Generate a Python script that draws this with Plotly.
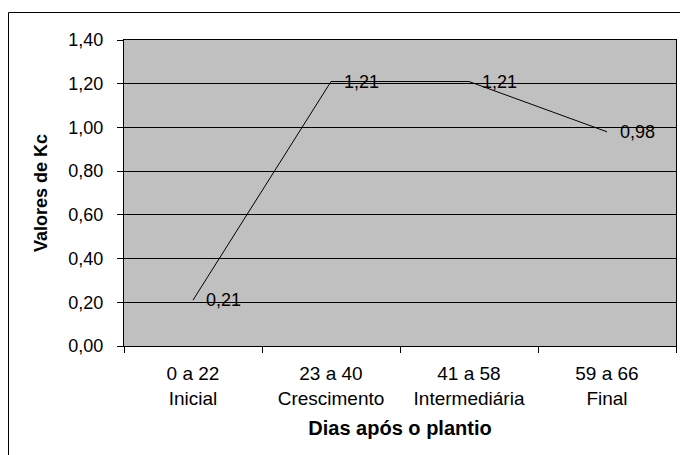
import plotly.graph_objects as go

categories = ["0 a 22<br>Inicial", "23 a 40<br>Crescimento", "41 a 58<br>Intermediária", "59 a 66<br>Final"]
kc_values = [0.21, 1.21, 1.21, 0.98]
kc_labels = ["0,21", "1,21", "1,21", "0,98"]
y_ticks = [0.0, 0.2, 0.4, 0.6, 0.8, 1.0, 1.2, 1.4]
y_ticktext = ["0,00", "0,20", "0,40", "0,60", "0,80", "1,00", "1,20", "1,40"]

FONT = "Liberation Sans, Arial, sans-serif"

fig = go.Figure()
fig.add_trace(go.Scatter(
    x=categories, y=kc_values, mode="lines",
    line=dict(color="black", width=1), hoverinfo="skip", showlegend=False,
))

for c, v, t in zip(categories, kc_values, kc_labels):
    fig.add_annotation(x=c, y=v, text=t, showarrow=False, xanchor="left",
                       yanchor="middle", xshift=11,
                       font=dict(family=FONT, size=18, color="black"))

W, H = 680, 455
L, R, T, B = 124, 4, 40, 109
pw, ph = W - L - R, H - T - B

fig.add_shape(type="rect", xref="paper", yref="paper",
              x0=(8.5 - L) / pw, x1=(W + 10 - L) / pw,
              y0=(H - B - (H + 10)) / ph, y1=(H - B - 12.5) / ph,
              line=dict(color="black", width=1), fillcolor="rgba(0,0,0,0)", layer="below")

fig.update_layout(
    width=W, height=H,
    margin=dict(l=L, r=R, t=T, b=B, pad=0),
    paper_bgcolor="white", plot_bgcolor="#C0C0C0",
    font=dict(family=FONT, color="black"),
    separators=",.",
    xaxis=dict(
        type="category", range=[-0.5, 3.5], tickson="boundaries", ticks="outside", ticklen=6,
        tickcolor="black", showline=True, linecolor="black", linewidth=1, mirror=True,
        showgrid=False, tickfont=dict(size=19), ticklabelstandoff=10,
        title=dict(text="<b>Dias após o plantio</b>", font=dict(size=20), standoff=13),
        automargin=False,
    ),
    yaxis=dict(
        range=[0, 1.4], tickvals=y_ticks, ticktext=y_ticktext, ticks="outside", ticklen=6,
        tickcolor="black", showline=True, linecolor="black", linewidth=1, mirror=True,
        showgrid=True, gridcolor="black", gridwidth=1, zeroline=False,
        tickfont=dict(size=18), ticklabelstandoff=10,
        title=dict(text="<b>Valores de Kc</b>", font=dict(size=18), standoff=16),
        automargin=False,
    ),
)

fig.write_html(
    "out.html",
    config={"displayModeBar": False},
    post_script="document.documentElement.style.margin='0';document.body.style.margin='0';"
                "document.body.style.overflow='hidden';",
)
